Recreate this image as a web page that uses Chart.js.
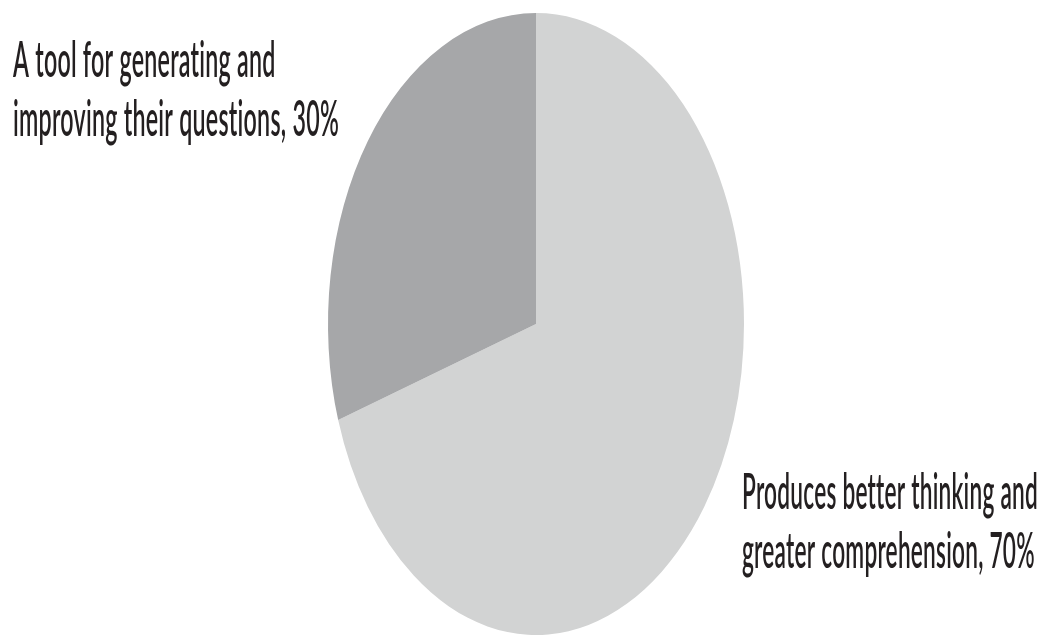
<!DOCTYPE html>
<html>
<head>
<meta charset="utf-8">
<script src="https://cdn.jsdelivr.net/npm/chart.js@4.4.1/dist/chart.umd.min.js"></script>
<style>
  html, body { margin: 0; padding: 0; background: #fff; }
  #wrap { width: 1043px; height: 637px; position: relative; }
</style>
</head>
<body>
<div id="wrap"><canvas id="myChart"></canvas></div>
<script>
// slices go clockwise from 12 o'clock
const labels = [
  ["Produces better thinking and", "greater comprehension,"],
  ["A tool for generating and", "improving their questions,"],
];
const values = [70, 30];
const colors = ["#d2d3d3", "#a6a7a9"];

// the pie is squashed sideways into an ellipse
const squashX = 208 / 311;

const ellipse = {
  id: "ellipse",
  beforeDatasetsDraw(chart) {
    const ctx = chart.ctx;
    const a = chart.chartArea;
    const cx = (a.left + a.right) / 2;
    ctx.save();
    ctx.translate(cx, 0);
    ctx.scale(squashX, 1);
    ctx.translate(-cx, 0);
  },
  afterDatasetsDraw(chart) {
    chart.ctx.restore();
  },
};

// label blocks: left edge, first baseline, width of the widest line
const labelPos = [
  { x: 742, y: 509, w: 296 },
  { x: 13, y: 77, w: 326 },
];
const lineGap = 59;

const sliceLabels = {
  id: "sliceLabels",
  afterDraw(chart) {
    const ctx = chart.ctx;
    ctx.save();
    ctx.font = "600 49px Lato";
    // a little spacing also turns off the "ti" ligature
    ctx.letterSpacing = "0.5px";
    ctx.fillStyle = "#231f20";
    ctx.textBaseline = "alphabetic";
    ctx.textAlign = "left";
    labels.forEach((lines, i) => {
      const p = labelPos[i];
      const text = [lines[0], lines[1] + " " + values[i] + "%"];
      // condensed look: squeeze the block so its widest line fits
      const widest = Math.max(...text.map((t) => ctx.measureText(t).width));
      const sx = p.w / widest;
      text.forEach((t, j) => {
        ctx.save();
        ctx.translate(p.x, p.y + j * lineGap);
        ctx.scale(sx, 1);
        ctx.fillText(t, 0, 0);
        ctx.restore();
      });
    });
    ctx.restore();
  },
};

var ctx = document.getElementById("myChart").getContext("2d");
var chart = new Chart(ctx, {
  type: "pie",
  data: {
    labels: labels.map((l) => l.join(" ")),
    datasets: [
      {
        data: values,
        backgroundColor: colors,
        borderWidth: 0,
      },
    ],
  },
  options: {
    animation: false,
    responsive: true,
    maintainAspectRatio: false,
    layout: {
      padding: { top: 13, bottom: 2, left: 29, right: 0 },
    },
    plugins: {
      legend: { display: false },
      tooltip: { enabled: false },
    },
  },
  plugins: [ellipse, sliceLabels],
});
</script>
</body>
</html>
